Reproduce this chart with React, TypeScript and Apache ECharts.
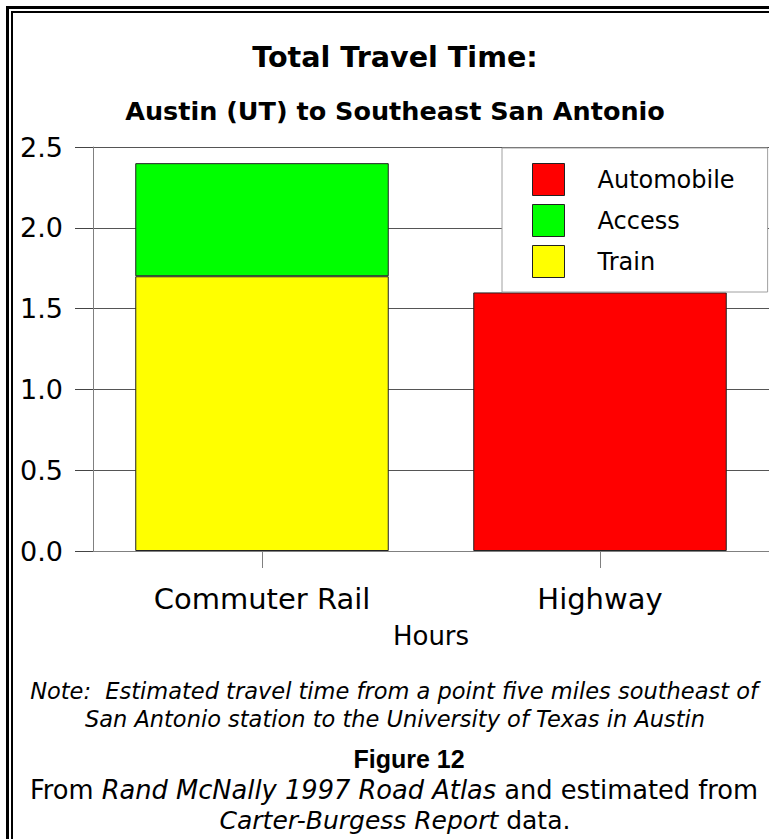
import React, { useEffect, useRef } from "react";
import * as echarts from "echarts";

const categories = ["Commuter Rail", "Highway"];
const trainValues = [1.7, null];
const accessValues = [0.7, null];
const automobileValues = [null, 1.6];
const legendNames = ["Automobile", "Access", "Train"];
const yMin = 0;
const yMax = 2.5;
const yStep = 0.5;

const titleText = "Total Travel Time:";
const subtitleText = "Austin (UT) to Southeast San Antonio";
const xAxisTitle = "Hours";
const noteLine1 = "Note:  Estimated travel time from a point five miles southeast of";
const noteLine2 = "San Antonio station to the University of Texas in Austin";
const figureLabel = "Figure 12";

const FONT = "DejaVu Sans";

export default function App() {
  const ref = useRef<HTMLDivElement>(null);
  useEffect(() => {
    if (!ref.current) return;
    const chart = echarts.init(ref.current, null, { renderer: "svg" });
    const barBorder = { borderColor: "#222", borderWidth: 1 };
    const richFor = (size: number) => ({
      n: { fontFamily: FONT, fontSize: size, fill: "#000", color: "#000" },
      i: { fontFamily: FONT, fontSize: size, fontStyle: "italic", fill: "#000", color: "#000" },
    });
    const option: any = {
      animation: false,
      backgroundColor: "#fff",
      grid: { left: 93, right: 0, top: 147, bottom: 288, containLabel: false },
      legend: {
        data: legendNames,
        orient: "vertical",
        left: 502,
        top: 148,
        itemWidth: 32,
        itemHeight: 32,
        itemGap: 8,
        padding: [15, 33, 14, 30],
        backgroundColor: "#fff",
        borderColor: "#a0a0a0",
        borderWidth: 1,
        borderRadius: 0,
        icon: "rect",
        itemStyle: { borderColor: "#222", borderWidth: 1 },
        textStyle: { fontFamily: FONT, fontSize: 24, color: "#000", padding: [0, 0, 0, 28] },
      },
      xAxis: {
        type: "category",
        data: categories,
        axisLine: { show: true, lineStyle: { color: "#808080", width: 1 } },
        axisTick: { show: true, alignWithLabel: true, length: 17, lineStyle: { color: "#808080" } },
        axisLabel: { fontFamily: FONT, fontSize: 29, color: "#000", margin: 33 },
        name: xAxisTitle,
        nameLocation: "middle",
        nameGap: 72,
        nameTextStyle: { fontFamily: FONT, fontSize: 26, color: "#000" },
      },
      yAxis: {
        type: "value",
        min: yMin,
        max: yMax,
        interval: yStep,
        axisLine: { show: true, lineStyle: { color: "#808080", width: 1 } },
        axisTick: { show: true, length: 18, lineStyle: { color: "#444" } },
        axisLabel: {
          fontFamily: FONT,
          fontSize: 27,
          color: "#000",
          margin: 30,
          formatter: (v: number) => v.toFixed(1),
        },
        splitLine: { show: true, lineStyle: { color: "#555", width: 1 } },
      },
      series: [
        {
          name: "Train",
          type: "bar",
          stack: "total",
          barWidth: "75%",
          data: trainValues,
          itemStyle: { color: "#ffff00", ...barBorder },
        },
        {
          name: "Access",
          type: "bar",
          stack: "total",
          barWidth: "75%",
          data: accessValues,
          itemStyle: { color: "#00ff00", ...barBorder },
        },
        {
          name: "Automobile",
          type: "bar",
          stack: "total",
          barWidth: "75%",
          data: automobileValues,
          itemStyle: { color: "#ff0000", ...barBorder },
        },
      ],
      graphic: [
        { type: "line", z: 100, shape: { x1: 7.5, y1: 6, x2: 7.5, y2: 839 }, style: { stroke: "#000", lineWidth: 3 } },
        { type: "line", z: 100, shape: { x1: 6, y1: 7.5, x2: 769, y2: 7.5 }, style: { stroke: "#000", lineWidth: 3 } },
        { type: "line", z: 100, shape: { x1: 12, y1: 11, x2: 12, y2: 839 }, style: { stroke: "#000", lineWidth: 2 } },
        { type: "line", z: 100, shape: { x1: 11, y1: 12, x2: 769, y2: 12 }, style: { stroke: "#000", lineWidth: 2 } },
        {
          type: "text", x: 395, y: 57,
          style: { text: titleText, align: "center", verticalAlign: "middle", fontFamily: FONT, fontWeight: "bold", fontSize: 28.6, fill: "#000" },
        },
        {
          type: "text", x: 395, y: 111,
          style: { text: subtitleText, align: "center", verticalAlign: "middle", fontFamily: FONT, fontWeight: "bold", fontSize: 25.5, fill: "#000" },
        },
        {
          type: "text", x: 394, y: 691,
          style: { text: noteLine1, align: "center", verticalAlign: "middle", fontFamily: FONT, fontStyle: "italic", fontSize: 22.5, fill: "#000" },
        },
        {
          type: "text", x: 395, y: 719,
          style: { text: noteLine2, align: "center", verticalAlign: "middle", fontFamily: FONT, fontStyle: "italic", fontSize: 22.5, fill: "#000" },
        },
        {
          type: "text", x: 409, y: 759,
          style: { text: figureLabel, align: "center", verticalAlign: "middle", fontFamily: "Liberation Sans", fontWeight: "bold", fontSize: 25, fill: "#000" },
        },
        {
          type: "text", x: 394, y: 790,
          style: {
            text: "{n|From }{i|Rand McNally 1997 Road Atlas}{n| and estimated from}",
            align: "center", verticalAlign: "middle",
            rich: richFor(25.7),
          },
        },
        {
          type: "text", x: 395, y: 820,
          style: {
            text: "{i|Carter-Burgess Report}{n| data.}",
            align: "center", verticalAlign: "middle",
            rich: richFor(25),
          },
        },
      ],
    };
    chart.setOption(option);
    return () => chart.dispose();
  }, []);
  return (
    <div
      ref={ref}
      style={{ position: "fixed", left: 0, top: 0, width: 769, height: 839, background: "#fff" }}
    />
  );
}
